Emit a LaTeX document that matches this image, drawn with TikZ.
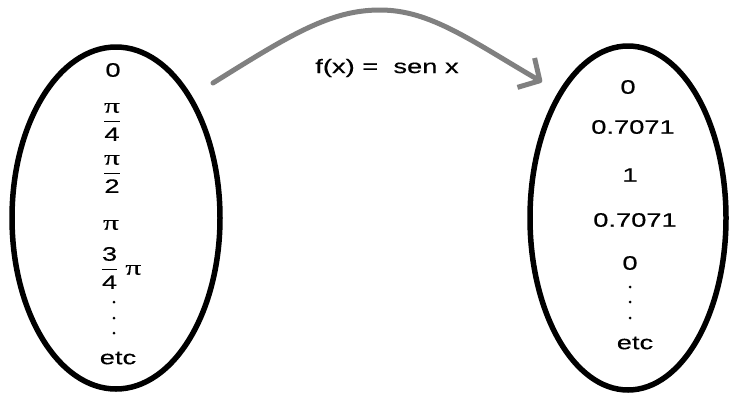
\documentclass[tikz,border=0pt]{standalone}
\usepackage{amsmath}
\usepackage{fontspec}
\setmainfont{Liberation Sans}[FakeStretch=1.4,FakeBold=0.4]
\newfontfamily\pifont{Liberation Serif}[FakeStretch=1.5,FakeBold=0.4]
\usetikzlibrary{arrows.meta,shapes.geometric}
\newcommand\ppi{\mbox{\pifont\fontsize{21}{24}\selectfont π}}
\newcommand\fr[2]{$\genfrac{}{}{1.1pt}{0}{#1}{\mbox{#2}}$}

\begin{document}
\begin{tikzpicture}[x=1pt,y=-1pt]
  \tikzset{
    setline/.style={draw=black,line width=5.5pt,ellipse,inner sep=0pt},
    val/.style={font=\fontsize{19.5}{23}\selectfont,inner sep=0pt},
    maparrow/.style={draw=black!50,line width=5pt,line cap=round,
      -{Straight Barb[length=16pt,width=34pt,line join=round]}}
  }
  \useasboundingbox (0,0) rectangle (730,394);
  \node[setline,minimum width=208pt,minimum height=342pt] (dom) at (116,218){};
  \node[setline,minimum width=196pt,minimum height=344pt] (img) at (628,218){};
  % left set
  \node[val] (a0) at (113,70){0};
  \node[val] (a1) at (112,122){\fr{\ppi}{4}};
  \node[val] (a2) at (112,174){\fr{\ppi}{2}};
  \node[val] (a3) at (111,225){\ppi};
  \node[val] (a4) at (121,268){\fr{\mbox{3}}{4}\hspace{7pt}\ppi};
  \foreach \y in {302,318,333}{\fill (114,\y) circle (1.5pt);}
  \node[val] (a5) at (118,358){etc};
  % right set
  \node[val] (b0) at (628,87){0};
  \node[val] (b1) at (633,127){0.7071};
  \node[val] (b2) at (630,175){1};
  \node[val] (b3) at (635,220){0.7071};
  \node[val] (b4) at (630,263){0};
  \foreach \y in {287,302,318}{\fill (630,\y) circle (1.5pt);}
  \node[val] (b5) at (635,343){etc};
  % the map
  \coordinate (from) at (213,83);
  \coordinate (top) at (380,10);
  \coordinate (to) at (542,82);
  \draw[maparrow] (from) .. controls (290,35) and (330,10) .. (top)
    .. controls (430,10) and (470,40) .. (to);
  \node[val] (fx) at (387,68){f(x) =\ \ sen x};
\end{tikzpicture}
\end{document}
